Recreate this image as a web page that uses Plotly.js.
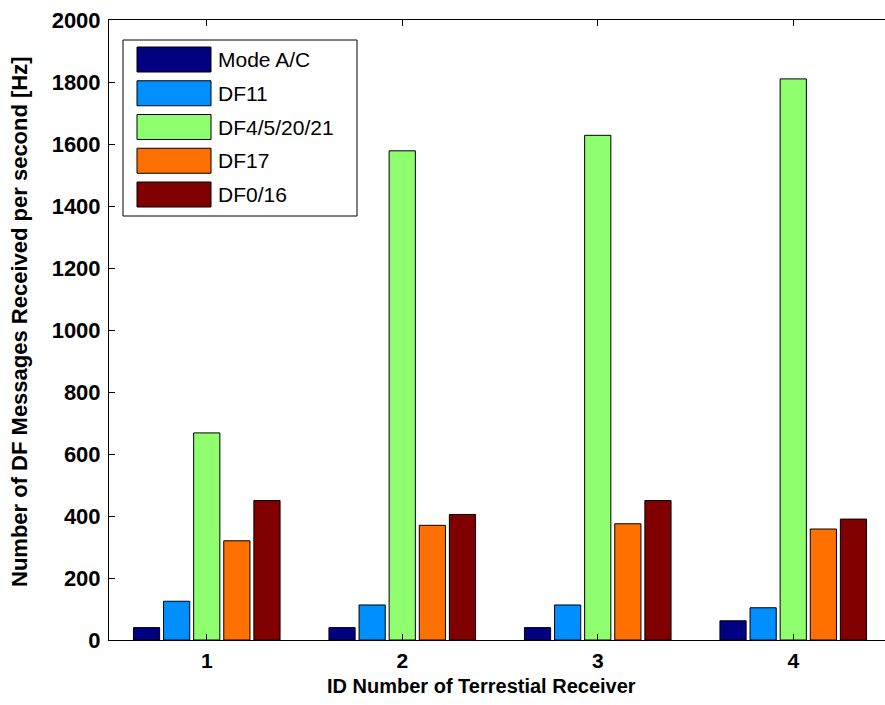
<!DOCTYPE html>
<html>
<head>
<meta charset="utf-8">
<script src="https://cdn.plot.ly/plotly-3.0.1.min.js"></script>
<style>
html,body{margin:0;padding:0;overflow:hidden;background:#fff;width:885px;height:705px;}
#chart{width:893px;height:705px;}
</style>
</head>
<body>
<div id="chart"></div>
<script>
// ---- data ----
const receivers = [1, 2, 3, 4];
const seriesNames = ["Mode A/C", "DF11", "DF4/5/20/21", "DF17", "DF0/16"];
const modeAC   = [40, 40, 40, 62];
const df11     = [125, 113, 113, 104];
const df4_5_20_21 = [668, 1578, 1628, 1810];
const df17     = [320, 370, 375, 358];
const df0_16   = [450, 405, 450, 390];
const seriesColors = ["#000080", "#008FFF", "#8FFF70", "#FF7000", "#800000"];
const yTicks = [0, 200, 400, 600, 800, 1000, 1200, 1400, 1600, 1800, 2000];
const xTitle = "ID Number of Terrestial Receiver";
const yTitle = "Number of DF Messages Received per second [Hz]";

const seriesValues = [modeAC, df11, df4_5_20_21, df17, df0_16];

const traces = seriesValues.map((vals, i) => ({
  type: "bar",
  name: seriesNames[i],
  x: receivers,
  y: vals,
  marker: {color: seriesColors[i], line: {color: "#000", width: 1}},
  showlegend: false,
  hoverinfo: "x+y+name"
}));

// plot area geometry (pixels)
const W = 893, H = 705, mL = 109, mR = 2, mT = 20, mB = 65;
const pw = W - mL - mR, ph = H - mT - mB;
const px2x = p => (p - mL) / pw;
const px2y = p => (H - mB - p) / ph;
const FONT = "Liberation Sans, Arial, sans-serif";

// custom legend (MATLAB style large swatches)
const shapes = [];
const annotations = [];
const boxL = 123, boxR = 357, boxT = 40, boxB = 216;
shapes.push({type: "rect", xref: "paper", yref: "paper",
  x0: px2x(boxL), x1: px2x(boxR), y0: px2y(boxB), y1: px2y(boxT),
  line: {color: "#000", width: 1}, fillcolor: "#fff", layer: "above"});
seriesNames.forEach((nm, i) => {
  const cy = 59.5 + i * 33.75;
  shapes.push({type: "rect", xref: "paper", yref: "paper",
    x0: px2x(137), x1: px2x(211), y0: px2y(cy + 12.5), y1: px2y(cy - 12.5),
    line: {color: "#000", width: 1}, fillcolor: seriesColors[i], layer: "above"});
  annotations.push({xref: "paper", yref: "paper", x: px2x(216), y: px2y(cy),
    xanchor: "left", yanchor: "middle", showarrow: false, text: nm,
    font: {family: FONT, size: 21, color: "#000"}});
});

// axis titles as annotations for exact placement
annotations.push({xref: "paper", yref: "paper", x: px2x(481), y: px2y(686),
  xanchor: "center", yanchor: "middle", showarrow: false, text: xTitle,
  font: {family: FONT, size: 20, weight: "bold", color: "#000"}});
annotations.push({xref: "paper", yref: "paper", x: px2x(19), y: px2y(322),
  xanchor: "center", yanchor: "middle", showarrow: false, text: yTitle, textangle: -90,
  font: {family: FONT, size: 22, weight: "bold", color: "#000"}});

const layout = {
  width: W, height: H,
  margin: {l: mL, r: mR, t: mT, b: mB, pad: 0},
  paper_bgcolor: "#fff", plot_bgcolor: "#fff",
  barmode: "group", bargap: 0.23, bargroupgap: 0.13,
  showlegend: false,
  font: {family: FONT, color: "#000"},
  xaxis: {
    range: [0.5, 4.5], tickvals: receivers, ticktext: receivers.map(String),
    ticks: "inside", ticklen: 6, tickcolor: "#000", mirror: "ticks",
    showline: true, linecolor: "#000", linewidth: 1, showgrid: false, zeroline: false,
    tickfont: {size: 21, weight: "bold"}, ticklabelstandoff: 2
  },
  yaxis: {
    range: [0, 2000], tickvals: yTicks, ticktext: yTicks.map(String),
    ticks: "inside", ticklen: 6, tickcolor: "#000", mirror: "ticks",
    showline: true, linecolor: "#000", linewidth: 1, showgrid: false, zeroline: false,
    tickfont: {size: 22, weight: "bold"}, ticklabelstandoff: 3
  },
  shapes: shapes,
  annotations: annotations
};

Plotly.newPlot("chart", traces, layout, {displayModeBar: false, staticPlot: true});
</script>
</body>
</html>
